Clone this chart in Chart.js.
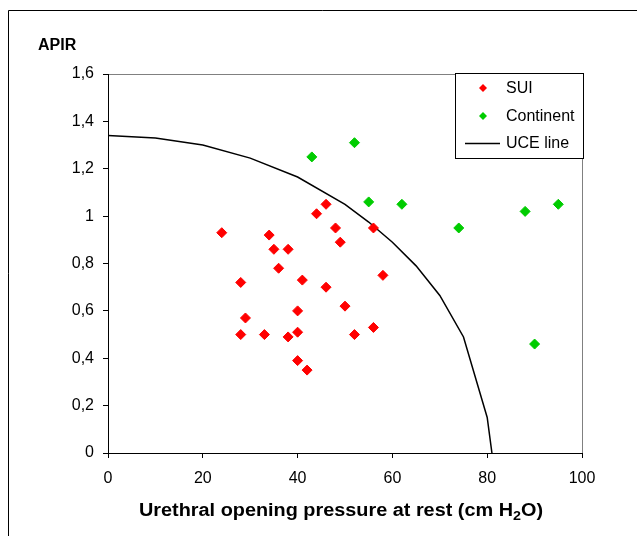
<!DOCTYPE html>
<html><head><meta charset="utf-8">
<script src="https://cdn.jsdelivr.net/npm/chart.js@4/dist/chart.umd.min.js"></script>
<style>html,body{margin:0;padding:0;background:#fff}#wrap{width:637px;height:536px;position:relative}</style>
</head><body><div id="wrap"><canvas id="c" width="637" height="536"></canvas></div>
<script>
// ---- data ----
const suiPressure = [24, 28, 28, 29, 33, 34, 35, 36, 38, 38, 40, 40, 40, 41, 42, 44, 46, 46, 48, 49, 50, 52, 56, 56, 58];
const suiAPIR     = [0.93, 0.72, 0.50, 0.57, 0.50, 0.92, 0.86, 0.78, 0.86, 0.49, 0.60, 0.51, 0.39, 0.73, 0.35, 1.01, 1.05, 0.70, 0.95, 0.89, 0.62, 0.50, 0.95, 0.53, 0.75];
const contPressure = [43, 52, 55, 62, 74, 88, 95, 90];
const contAPIR     = [1.25, 1.31, 1.06, 1.05, 0.95, 1.02, 1.05, 0.46];
const ucePressure = [0, 10, 20, 30, 40, 50, 55, 60, 65, 70, 75, 80, 81];
const uceAPIR     = [1.34, 1.33, 1.30, 1.245, 1.165, 1.05, 0.975, 0.89, 0.79, 0.665, 0.49, 0.15, 0];
const xTicks = [0, 20, 40, 60, 80, 100];
const yTicks = [0, 0.2, 0.4, 0.6, 0.8, 1, 1.2, 1.4, 1.6];
const seriesNames = ['SUI', 'Continent', 'UCE line'];
const yTitle = 'APIR';
const xTitleMain = 'Urethral opening pressure at rest (cm H';
const xTitleSub = '2';
const xTitleEnd = 'O)';

const FONT = "'Liberation Sans', Arial, sans-serif";
const RED = '#FF0000', GREEN = '#00CC00';
const toPts = (xs, ys) => xs.map((x, i) => ({x, y: ys[i]}));
const fmt = v => String(Number(v.toFixed(1))).replace('.', ',');

const decor = {
  id: 'decor',
  beforeDraw(chart) {
    const ctx = chart.ctx, a = chart.chartArea;
    ctx.save();
    ctx.fillStyle = '#fff';
    ctx.fillRect(0, 0, chart.width, chart.height);
    ctx.strokeStyle = '#000'; ctx.lineWidth = 1;
    ctx.beginPath();
    ctx.moveTo(8.5, chart.height); ctx.lineTo(8.5, 10.5); ctx.lineTo(chart.width, 10.5);
    ctx.stroke();
    ctx.strokeStyle = '#808080';
    ctx.beginPath();
    ctx.moveTo(a.left, a.top + 0.5); ctx.lineTo(a.right + 0.5, a.top + 0.5); ctx.lineTo(a.right + 0.5, a.bottom);
    ctx.stroke();
    ctx.restore();
  },
  afterDraw(chart) {
    const ctx = chart.ctx;
    ctx.save();
    ctx.fillStyle = '#000';
    ctx.font = 'bold 16px ' + FONT;
    ctx.textBaseline = 'alphabetic'; ctx.textAlign = 'left';
    ctx.fillText(yTitle, 38, 50);
    // x title with subscript, stretched horizontally like the reference
    const big = 'bold 18px ' + FONT, small = 'bold 13px ' + FONT;
    ctx.font = big;
    const w1 = ctx.measureText(xTitleMain).width;
    const w3 = ctx.measureText(xTitleEnd).width;
    ctx.font = small;
    const w2 = ctx.measureText(xTitleSub).width;
    const total = w1 + w2 + w3;
    const targetW = 404, startX = 139, base = 516;
    const sx = targetW / total;
    ctx.translate(startX, base);
    ctx.scale(sx, 1);
    ctx.font = big;
    ctx.fillText(xTitleMain, 0, 0);
    ctx.font = small;
    ctx.fillText(xTitleSub, w1, 4);
    ctx.font = big;
    ctx.fillText(xTitleEnd, w1 + w2, 0);
    ctx.setTransform(1, 0, 0, 1, 0, 0);
    // legend
    const lx = 455, ly = 73, lw = 128, lh = 85;
    ctx.fillStyle = '#fff';
    ctx.fillRect(lx, ly, lw, lh);
    ctx.strokeStyle = '#000'; ctx.lineWidth = 1;
    ctx.strokeRect(lx + 0.5, ly + 0.5, lw, lh);
    const rows = [88, 116, 143];
    const cols = [RED, GREEN];
    ctx.font = '16px ' + FONT;
    ctx.textBaseline = 'middle';
    for (let i = 0; i < 3; i++) {
      const cy = rows[i];
      if (i < 2) {
        ctx.fillStyle = cols[i];
        ctx.beginPath();
        ctx.moveTo(483, cy - 4); ctx.lineTo(487, cy); ctx.lineTo(483, cy + 4); ctx.lineTo(479, cy);
        ctx.closePath(); ctx.fill();
      } else {
        ctx.strokeStyle = '#000'; ctx.lineWidth = 1.3;
        ctx.beginPath(); ctx.moveTo(465, cy + 0.5); ctx.lineTo(500, cy + 0.5); ctx.stroke();
      }
      ctx.fillStyle = '#000';
      ctx.fillText(seriesNames[i], 506, cy + 1);
    }
    ctx.restore();
  }
};

new Chart(document.getElementById('c'), {
  type: 'scatter',
  data: {
    datasets: [
      {label: seriesNames[0], data: toPts(suiPressure, suiAPIR), pointStyle: 'rectRot', pointRadius: 5, borderWidth: 1,
       backgroundColor: RED, borderColor: RED},
      {label: seriesNames[1], data: toPts(contPressure, contAPIR), pointStyle: 'rectRot', pointRadius: 5, borderWidth: 1,
       backgroundColor: GREEN, borderColor: GREEN},
      {label: seriesNames[2], data: toPts(ucePressure, uceAPIR), showLine: true, pointRadius: 0, borderWidth: 1.5,
       borderColor: '#000', backgroundColor: '#000', tension: 0}
    ]
  },
  options: {
    responsive: false, animation: false, devicePixelRatio: 1,
    layout: {padding: {top: 74, right: 55, left: 0, bottom: 0}},
    plugins: {legend: {display: false}, tooltip: {enabled: false}},
    scales: {
      x: {
        type: 'linear', min: 0, max: 100,
        afterBuildTicks: s => { s.ticks = xTicks.map(v => ({value: v})); },
        afterFit: s => { s.height = 83; },
        grid: {drawOnChartArea: false, drawTicks: true, tickLength: 5, color: '#000'},
        border: {display: true, color: '#000', width: 1},
        ticks: {color: '#000', font: {family: FONT, size: 16}, padding: 11, maxRotation: 0, callback: v => fmt(v)}
      },
      y: {
        type: 'linear', min: 0, max: 1.6,
        afterBuildTicks: s => { s.ticks = yTicks.map(v => ({value: v})); },
        afterFit: s => { s.width = 108; },
        grid: {drawOnChartArea: false, drawTicks: true, tickLength: 5, color: '#000'},
        border: {display: true, color: '#000', width: 1},
        ticks: {color: '#000', font: {family: FONT, size: 16}, padding: 9, callback: v => fmt(v)}
      }
    }
  },
  plugins: [decor]
});
</script>
</body></html>
